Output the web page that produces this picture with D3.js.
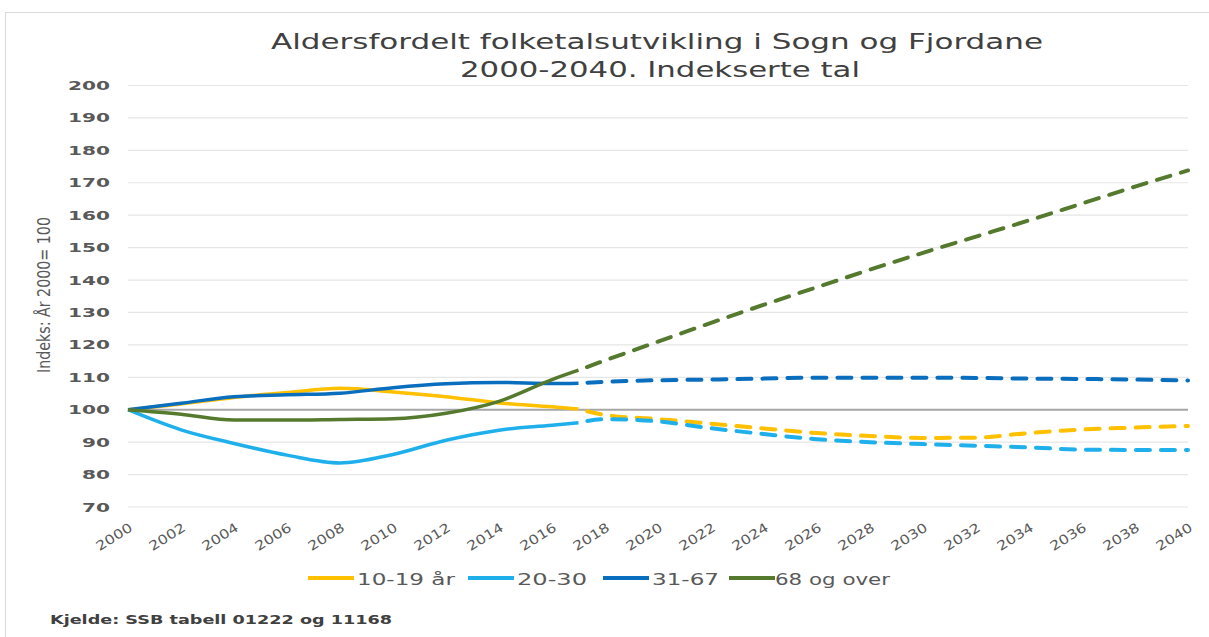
<!DOCTYPE html>
<html>
<head>
<meta charset="utf-8">
<script src="https://cdn.jsdelivr.net/npm/d3@7"></script>
<style>
  body { margin: 0; background: #fff; }
  text { font-family: "DejaVu Sans", Verdana, sans-serif; }
</style>
</head>
<body>
<div id="vis"></div>
<script>
const W = 1209;
const H = 637;
const margin = { top: 85.5, right: 21, bottom: 130, left: 128 };
const width = W - margin.left - margin.right;
const height = 507 - margin.top;

// historic (solid) and projected (dashed) years
const histYears = [2000, 2002, 2004, 2006, 2008, 2010, 2012, 2014, 2016, 2017];
const projYears = [2017, 2018, 2020, 2022, 2024, 2026, 2028, 2030, 2032, 2034, 2036, 2038, 2040];

const seriesNames = ["10-19 år", "20-30", "31-67", "68 og over"];
const seriesColors = ["#FFC000", "#1FB0EC", "#0A6EBE", "#557A2E"];

const hist_10_19 = [100, 101.8, 103.8, 105.3, 106.6, 105.5, 104.0, 102.1, 100.9, 100.2];
const hist_20_30 = [100, 93.8, 89.6, 86.0, 83.6, 86.2, 90.6, 93.7, 95.2, 96.0];
const hist_31_67 = [100, 102.0, 104.0, 104.6, 105.1, 106.8, 108.0, 108.4, 108.1, 108.2];
const hist_68 = [100, 98.6, 96.8, 96.8, 97.0, 97.2, 98.9, 102.6, 109.3, 112.2];

const proj_10_19 = [100.2, 98.4, 97.1, 95.7, 94.2, 92.8, 91.9, 91.3, 91.4, 92.8, 93.9, 94.5, 95.0];
const proj_20_30 = [96.0, 97.1, 96.4, 94.3, 92.5, 90.9, 90.0, 89.4, 88.9, 88.4, 87.7, 87.6, 87.6];
const proj_31_67 = [108.2, 108.6, 109.1, 109.3, 109.6, 109.9, 109.9, 109.9, 109.8, 109.6, 109.5, 109.3, 109.0];
const proj_68 = [112.2, 115.2, 121.0, 126.8, 132.4, 137.8, 143.2, 148.4, 153.4, 158.4, 163.6, 168.8, 173.8];

const histValues = [hist_10_19, hist_20_30, hist_31_67, hist_68];
const projValues = [proj_10_19, proj_20_30, proj_31_67, proj_68];

const yTicks = [70, 80, 90, 100, 110, 120, 130, 140, 150, 160, 170, 180, 190, 200];
const xTicks = d3.range(2000, 2041, 2);

const svg = d3
  .select("#vis")
  .append("svg")
  .attr("width", W)
  .attr("height", H);

// outer frame
svg
  .append("rect")
  .attr("x", 5.5)
  .attr("y", 12.5)
  .attr("width", W + 10)
  .attr("height", H + 10)
  .attr("fill", "none")
  .attr("stroke", "#d9d9d9");

const x = d3.scaleLinear().domain([2000, 2040]).range([0, width]);
const y = d3.scaleLinear().domain([70, 200]).range([height, 0]);

const g = svg
  .append("g")
  .attr("transform", `translate(${margin.left},${margin.top})`);

// gridlines
g.append("g")
  .selectAll("line")
  .data(yTicks)
  .enter()
  .append("line")
  .attr("x1", 0)
  .attr("x2", width)
  .attr("y1", (d) => y(d))
  .attr("y2", (d) => y(d))
  .attr("stroke", (d) => (d === 100 ? "#a6a6a6" : "#e6e6e6"))
  .attr("stroke-width", (d) => (d === 100 ? 2 : 1.2));

// y tick labels
const yAxis = d3.axisLeft(y).tickValues(yTicks).tickSize(0).tickPadding(18);
g.append("g")
  .call(yAxis)
  .call((a) => a.select(".domain").remove())
  .selectAll("text")
  .attr("font-family", "DejaVu Sans")
  .attr("font-size", 12.5)
  .attr("font-weight", "bold")
  .attr("fill", "#595959")
  .attr("textLength", (d) => (d >= 100 ? 42 : 28))
  .attr("lengthAdjust", "spacingAndGlyphs");

// x tick labels, rotated
const xAxis = d3.axisBottom(x).tickValues(xTicks).tickSize(0).tickFormat(d3.format("d"));
g.append("g")
  .attr("transform", `translate(0,${height})`)
  .call(xAxis)
  .call((a) => a.select(".domain").remove())
  .selectAll("text")
  .attr("font-family", "DejaVu Sans")
  .attr("font-size", 13)
  .attr("fill", "#595959")
  .attr("text-anchor", "end")
  .attr("dy", 0)
  .attr("y", 0)
  .attr("textLength", 40)
  .attr("lengthAdjust", "spacingAndGlyphs")
  .attr("transform", "translate(5,23) rotate(-32)");

const line = d3
  .line()
  .x((d) => x(d[0]))
  .y((d) => y(d[1]))
  .curve(d3.curveMonotoneX);

seriesNames.forEach((name, i) => {
  const hist = histYears.map((yr, j) => [yr, histValues[i][j]]);
  const proj = projYears.map((yr, j) => [yr, projValues[i][j]]);

  g.append("path")
    .datum(hist)
    .attr("d", line)
    .attr("fill", "none")
    .attr("stroke", seriesColors[i])
    .attr("stroke-width", 3.5)
    .attr("stroke-linejoin", "round");

  g.append("path")
    .datum(proj)
    .attr("d", line)
    .attr("fill", "none")
    .attr("stroke", seriesColors[i])
    .attr("stroke-width", 4)
    .attr("stroke-linecap", "round")
    .attr("stroke-dasharray", "14,11")
    .attr("stroke-dashoffset", -9);
});

// title
const title = svg
  .append("text")
  .attr("text-anchor", "middle")
  .attr("fill", "#404040")
  .attr("font-size", 22);
title
  .append("tspan")
  .attr("x", 657)
  .attr("y", 49)
  .attr("textLength", 772)
  .attr("lengthAdjust", "spacingAndGlyphs")
  .text("Aldersfordelt folketalsutvikling i Sogn og Fjordane");
title
  .append("tspan")
  .attr("x", 660)
  .attr("y", 77)
  .attr("textLength", 400)
  .attr("lengthAdjust", "spacingAndGlyphs")
  .text("2000-2040. Indekserte tal");

// y axis title
svg
  .append("text")
  .attr("transform", "translate(50,295) rotate(-90)")
  .attr("text-anchor", "middle")
  .attr("font-family", "Liberation Sans Narrow, Liberation Sans")
  .attr("font-size", 17)
  .attr("fill", "#595959")
  .attr("textLength", 156)
  .attr("lengthAdjust", "spacingAndGlyphs")
  .text("Indeks: År 2000= 100");

// legend
const legendItems = [
  { x: 308, tx: 357, tw: 98 },
  { x: 468, tx: 517, tw: 70 },
  { x: 603, tx: 652, tw: 67 },
  { x: 729, tx: 775, tw: 115 },
];
const legend = svg.append("g").attr("class", "legend");
legendItems.forEach((it, i) => {
  legend
    .append("line")
    .attr("x1", it.x)
    .attr("x2", it.x + 46)
    .attr("y1", 578)
    .attr("y2", 578)
    .attr("stroke", seriesColors[i])
    .attr("stroke-width", 4);
  legend
    .append("text")
    .attr("x", it.tx)
    .attr("y", 584.5)
    .attr("font-size", 16)
    .attr("fill", "#595959")
    .attr("textLength", it.tw)
    .attr("lengthAdjust", "spacingAndGlyphs")
    .text(seriesNames[i]);
});

// source
svg
  .append("text")
  .attr("x", 50)
  .attr("y", 624)
  .attr("font-size", 12)
  .attr("font-weight", "bold")
  .attr("fill", "#404040")
  .attr("textLength", 342)
  .attr("lengthAdjust", "spacingAndGlyphs")
  .text("Kjelde: SSB tabell 01222 og 11168");
</script>
</body>
</html>
